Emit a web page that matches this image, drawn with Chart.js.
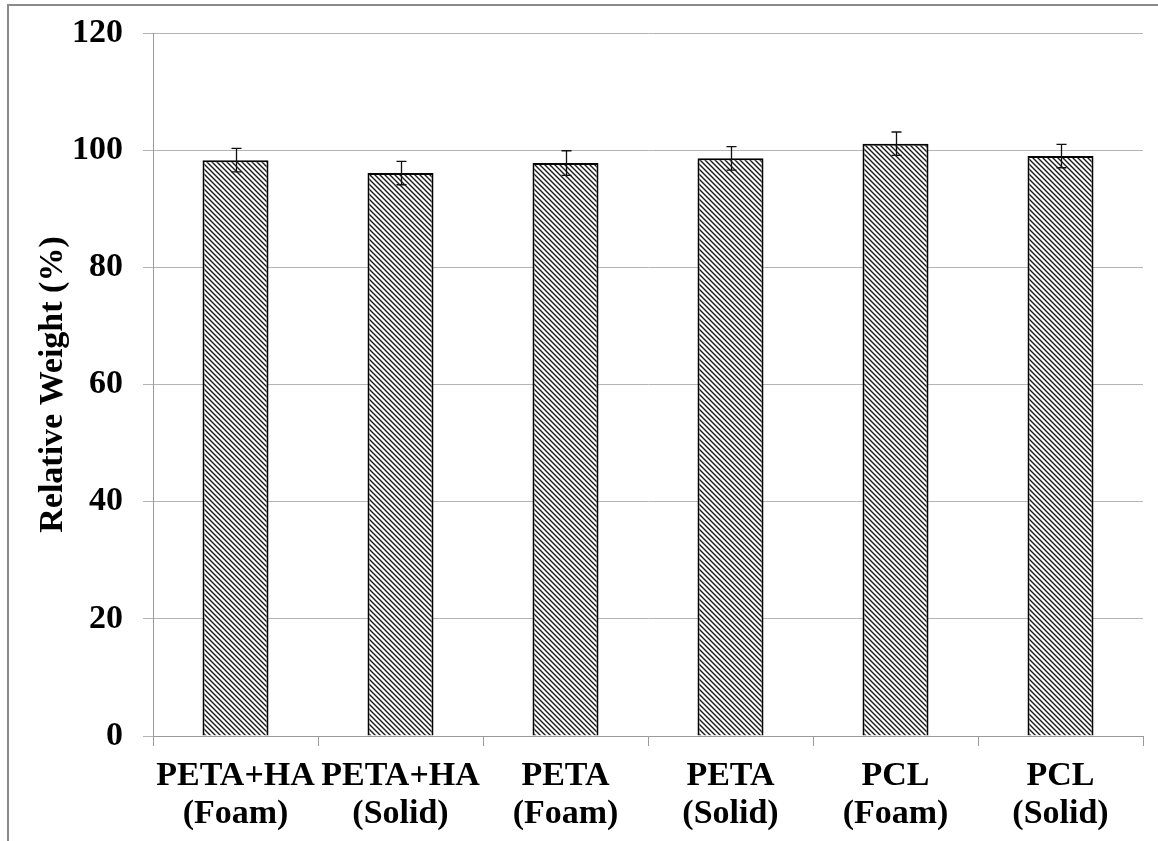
<!DOCTYPE html>
<html>
<head>
<meta charset="utf-8">
<script src="https://cdn.jsdelivr.net/npm/chart.js@4.4.1/dist/chart.umd.min.js"></script>
<style>
  html,body{margin:0;padding:0;background:#fff;}
  #wrap{position:relative;width:1158px;height:841px;}
</style>
</head>
<body>
<div id="wrap"><canvas id="chart" width="1158" height="841"></canvas></div>
<script>
'use strict';
const categories = [['PETA+HA','(Foam)'],['PETA+HA','(Solid)'],['PETA','(Foam)'],['PETA','(Solid)'],['PCL','(Foam)'],['PCL','(Solid)']];
const weights = [98.3, 96.1, 97.8, 98.6, 101.1, 99.0];
const errors  = [2.0, 2.0, 2.1, 2.0, 2.0, 2.0];
const yTicks  = [0, 20, 40, 60, 80, 100, 120];

const FONT = '"Liberation Serif", "Times New Roman", serif';

function hatch() {
  const s = 5, c = document.createElement('canvas');
  c.width = s; c.height = s;
  const g = c.getContext('2d');
  g.fillStyle = '#fff'; g.fillRect(0,0,s,s);
  g.strokeStyle = '#1a1a1a'; g.lineWidth = 1.4;
  g.beginPath();
  g.moveTo(-1,-1); g.lineTo(s+1,s+1);
  g.moveTo(-1,s-1); g.lineTo(1,s+1);
  g.moveTo(s-1,-1); g.lineTo(s+1,1);
  g.stroke();
  return document.getElementById('chart').getContext('2d').createPattern(c,'repeat');
}

const frame = {
  id:'frame',
  beforeDraw(chart){
    const ctx = chart.ctx;
    ctx.save();
    ctx.strokeStyle = '#8a8a8a'; ctx.lineWidth = 2;
    ctx.beginPath();
    ctx.moveTo(8, 841); ctx.lineTo(8, 5); ctx.lineTo(1158, 5);
    ctx.stroke();
    ctx.restore();
  }
};

const errorBars = {
  id:'errorBars',
  afterDatasetsDraw(chart){
    const ctx = chart.ctx, meta = chart.getDatasetMeta(0), y = chart.scales.y;
    ctx.save();
    ctx.strokeStyle = '#111'; ctx.lineWidth = 1.3;
    meta.data.forEach((bar,i)=>{
      const x = Math.round(bar.x)+0.5;
      const top = y.getPixelForValue(weights[i]+errors[i]);
      const bot = y.getPixelForValue(weights[i]-errors[i]);
      ctx.beginPath();
      ctx.moveTo(x, top); ctx.lineTo(x, bot);
      ctx.moveTo(x-5, top); ctx.lineTo(x+5, top);
      ctx.moveTo(x-5, bot); ctx.lineTo(x+5, bot);
      ctx.stroke();
    });
    ctx.restore();
  }
};

new Chart(document.getElementById('chart'), {
  type:'bar',
  data:{ labels:categories, datasets:[{
    data:weights, backgroundColor:hatch(), borderColor:'#000', borderWidth:2,
    categoryPercentage:0.8, barPercentage:0.5
  }]},
  plugins:[frame, errorBars],
  options:{
    responsive:false, animation:false,
    layout:{padding:{top:33,right:15,left:0,bottom:0}},
    plugins:{legend:{display:false}, tooltip:{enabled:false}},
    scales:{
      x:{
        grid:{drawOnChartArea:false, offset:true, tickLength:10, color:'#9a9a9a', lineWidth:1},
        border:{color:'#9a9a9a', width:1},
        ticks:{color:'#000', padding:11, maxRotation:0, font:{family:FONT, size:34, weight:'bold', lineHeight:1.12}},
        afterFit(s){ s.height = 105; s.paddingLeft = 0; s.paddingRight = 0; }
      },
      y:{
        min:0, max:120,
        afterBuildTicks(s){ s.ticks = yTicks.map(v=>({value:v})); },
        grid:{color:'#b4b4b4', lineWidth:1, tickLength:10},
        border:{color:'#9a9a9a', width:1},
        ticks:{color:'#000', padding:20, font:{family:FONT, size:34, weight:'bold'}},
        title:{display:true, text:'Relative Weight (%)', color:'#000', padding:{top:33,bottom:0},
               font:{family:FONT, size:34, weight:'bold'}},
        afterFit(s){ s.width = 153; s.paddingTop = 0; s.paddingBottom = 0; }
      }
    }
  }
});
</script>
</body>
</html>
